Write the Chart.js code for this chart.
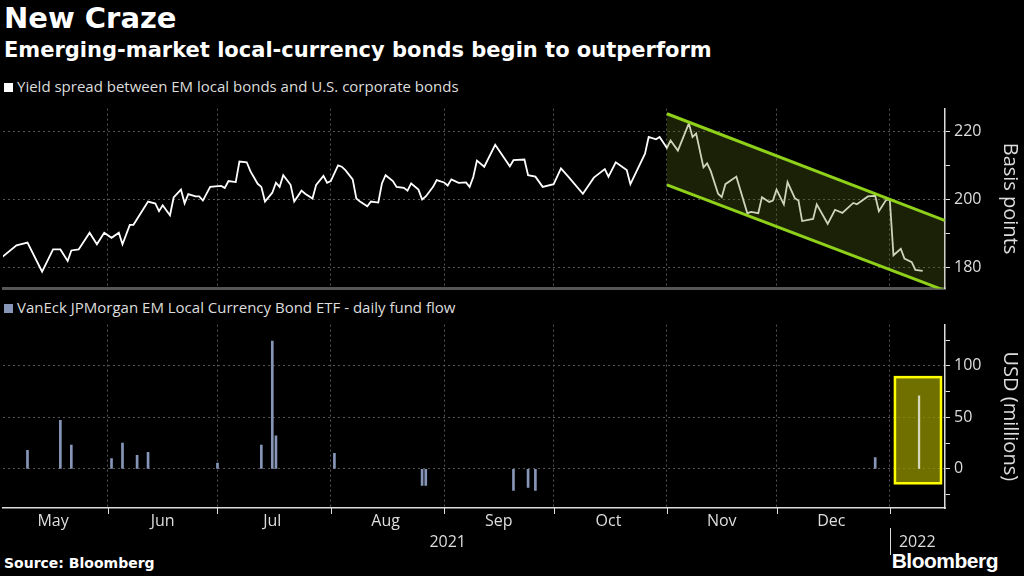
<!DOCTYPE html>
<html>
<head>
<meta charset="utf-8">
<script src="https://cdn.jsdelivr.net/npm/chart.js@4"></script>
<style>
  body { margin: 0; background: #000; width: 1024px; height: 576px; overflow: hidden; font-family: "DejaVu Sans", sans-serif; color: #fff; }
  .txt { position: absolute; left: 4px; white-space: nowrap; }
  #titulo { top: 1px; font-size: 29px; font-weight: bold; }
  #subtitulo { top: 38px; font-size: 21px; font-weight: bold; }
  .leyenda { font-family: "Open Sans", sans-serif; font-size: 15px; color: #ddd; }
  .leyenda span { display: inline-block; width: 9px; height: 9px; margin-right: 4px; }
  #fuente { top: 555px; font-size: 14px; font-weight: bold; }
  #marca { position: absolute; right: 26px; top: 549px; font-family: "Liberation Sans", sans-serif; font-size: 21px; font-weight: bold; letter-spacing: -0.5px; }
  canvas { position: absolute; left: 0; }
</style>
</head>
<body>
<div id="titulo" class="txt">New Craze</div>
<div id="subtitulo" class="txt">Emerging-market local-currency bonds begin to outperform</div>
<div class="txt leyenda" style="top:76px"><span style="background:#fff"></span>Yield spread between EM local bonds and U.S. corporate bonds</div>
<div class="txt leyenda" style="top:297px"><span style="background:#8796b8"></span>VanEck JPMorgan EM Local Currency Bond ETF - daily fund flow</div>
<div id="fuente" class="txt">Source: Bloomberg</div>
<div id="marca">Bloomberg</div>
<div style="position:absolute;top:95px;left:0;width:1024px;height:207px"><canvas id="chartSpread"></canvas></div>
<div style="position:absolute;top:311px;left:0;width:1024px;height:247px"><canvas id="chartFlujo"></canvas></div>
<script>
// x values are days since 1 May 2021
const diasSpread = [2,6,9,13,16,18,20,21,23,26,28,30,32,34,35,37,38,42,44,45,46,48,49,51,52,53,55,56,57,59,62,63,64,66,67,69,70,72,73,74,76,77,78,79,81,82,84,85,87,88,90,91,92,94,95,96,98,99,100,102,103,105,106,107,109,110,112,113,114,116,117,118,120,121,123,124,125,127,129,130,131,132,134,137,141,142,145,146,148,150,153,155,157,161,164,167,168,170,173,174,178,179,181,182,184,185,187,190,191,192,194,195,196,198,199,200,203,206,207,209,210,212,213,214,216,217,219,220,221,224,225,228,230,232,235,236,239,241,242,244,245,246,248,249,251,252,254];
const valoresSpread = [183.1,186.6,187.4,178.9,185.4,185.4,182,185.1,185.4,190.3,186.9,190.3,188.8,190.3,186.9,192.6,192.6,199.4,198.8,196.6,198.3,195.4,200.6,202.9,198.9,201.6,200.9,200.9,199.7,203.7,204,203.4,205.4,205.1,211.1,210.9,208.3,204.6,203.7,199.4,202,204.9,203.7,207.1,204.3,199.4,202.6,201.7,200.3,204.3,206.9,204.9,205.4,210,209.6,208.6,205.9,200.3,199.4,198,199.4,199.1,204.7,207.1,205.4,203.7,203.4,202.6,204.7,202.9,200,200.9,203.7,205.7,205,204.1,205.9,204.9,205,203.7,206.6,211.4,209.6,216,209.7,211.5,211.7,207.1,206.7,203.7,204.5,209.1,206.7,201.7,206.4,208.9,206.7,210.9,208.6,204.5,213.4,218.3,217.6,218.3,215.1,217.3,214.3,222.3,218.3,219.3,209.4,210.6,208.3,201.7,200.7,204.5,206.7,196,196.4,196,200.7,199.3,199.7,202.9,198.6,205.1,200.4,199.7,193.7,194.3,198.6,192.9,197,196.1,199,198.6,200.9,201.1,196.6,199.9,199.9,183.7,185.6,182.7,181.7,179.4,179.1];
const canalDias = [184, 260];
const canalSuperior = [225.1, 193.9];
const canalInferior = [204.3, 173.4];

const diasFlujo = [9,18,21,32,35,39,42,61,73,76,77,93,117,118,142,146,148,241,253];
const valoresFlujo = [18,47,23,10,25,13,16,5.5,23,124,32,15,-16,-16,-21,-18,-21,11,71];
const cajaDestacada = { desde: 246.4, hasta: 259, arriba: 89, abajo: -14 };

const inicioMes = [31,61,92,123,153,184,214,245];
const mesesEtiquetas = ['May','Jun','Jul','Aug','Sep','Oct','Nov','Dec'];
const mitadMes = [16,46,76,107,138,168,199,229];
const anios = [{ texto: '2021', dia: 124 }, { texto: '2022', dia: 252.5 }];
const X_MIN = 2.3, X_MAX = 260.1;

const fuenteEje = { family: 'Open Sans', size: 16 };

function ejeX(conEtiquetas) {
    return {
        type: 'linear', min: X_MIN, max: X_MAX, offset: false,
        afterBuildTicks: s => { s.ticks = inicioMes.map(v => ({ value: v })); },
        ticks: { display: false },
        grid: { color: '#555', lineWidth: 1, drawTicks: false, offset: false },
        border: conEtiquetas ? { color: '#ddd', width: 1.5, dash: [2, 3] } : { color: '#555', width: 3, dash: [2, 3] }
    };
}

function ejeY(min, max, paso, etiquetas, titulo) {
    return {
        position: 'right', min: min, max: max,
        afterBuildTicks: s => {
            const t = [];
            for (let v = Math.ceil(min / paso) * paso; v <= max; v += paso) t.push({ value: v });
            s.ticks = t;
        },
        afterFit: s => { s.width = 79; },
        ticks: { color: '#ddd', font: fuenteEje, padding: 4, callback: v => etiquetas.includes(v) ? v : '' },
        grid: {
            color: c => etiquetas.includes(c.tick && c.tick.value) ? '#555' : 'rgba(0,0,0,0)',
            tickColor: '#ddd', drawTicks: true, tickLength: 5
        },
        border: { color: '#ddd', width: 1.5, dash: [2, 3] },
        title: { display: true, text: titulo, color: '#ddd', font: { family: 'Open Sans', size: 20 }, padding: { top: 2, bottom: 0 } }
    };
}

new Chart(document.getElementById('chartSpread'), {
    type: 'line',
    data: {
        datasets: [
            { data: canalDias.map((d, i) => ({ x: d, y: canalInferior[i] })), borderColor: '#8fd11a', borderWidth: 3, pointRadius: 0, fill: false },
            { data: canalDias.map((d, i) => ({ x: d, y: canalSuperior[i] })), borderColor: '#8fd11a', borderWidth: 3, pointRadius: 0, fill: '-1', backgroundColor: 'rgba(90,110,20,0.3)' },
            { data: diasSpread.map((d, i) => ({ x: d, y: valoresSpread[i] })), borderColor: '#fff', borderWidth: 1.8, pointRadius: 0, tension: 0 }
        ]
    },
    options: {
        animation: false, responsive: true, maintainAspectRatio: false,
        layout: { padding: { left: 3, top: 8, bottom: 3, right: 0 } },
        plugins: { legend: { display: false }, tooltip: { enabled: false } },
        scales: {
            x: ejeX(false),
            y: ejeY(174, 226.6, 10, [180, 200, 220], 'Basis points')
        }
    }
});

const extrasFlujo = {
    id: 'extrasFlujo',
    afterDatasetsDraw(chart) {
        const { ctx, scales: { x, y } } = chart;
        const l = x.getPixelForValue(cajaDestacada.desde), r = x.getPixelForValue(cajaDestacada.hasta);
        const t = y.getPixelForValue(cajaDestacada.arriba), b = y.getPixelForValue(cajaDestacada.abajo);
        ctx.save();
        ctx.fillStyle = 'rgba(150,150,0,0.75)';
        ctx.fillRect(l, t, r - l, b - t);
        // la barra destacada encima de la caja, en tono claro
        const i = valoresFlujo.length - 1;
        const bx = x.getPixelForValue(diasFlujo[i]);
        ctx.fillStyle = '#d8d8c0';
        ctx.fillRect(bx - 1, y.getPixelForValue(valoresFlujo[i]), 2, y.getPixelForValue(0) - y.getPixelForValue(valoresFlujo[i]));
        ctx.strokeStyle = '#ffff00'; ctx.lineWidth = 2.5;
        ctx.strokeRect(l, t, r - l, b - t);
        // meses y años
        ctx.fillStyle = '#ddd';
        ctx.font = '16px "Open Sans"';
        ctx.textAlign = 'center'; ctx.textBaseline = 'middle';
        const base = x.bottom;
        mesesEtiquetas.forEach((m, k) => ctx.fillText(m, x.getPixelForValue(mitadMes[k]), base + 13));
        anios.forEach(a => ctx.fillText(a.texto, x.getPixelForValue(a.dia), base + 34));
        ctx.strokeStyle = '#ddd'; ctx.lineWidth = 1;
        inicioMes.forEach(d => {
            const px = Math.round(x.getPixelForValue(d)) + 0.5;
            ctx.beginPath(); ctx.moveTo(px, base); ctx.lineTo(px, base + 6); ctx.stroke();
        });
        const sep = Math.round(x.getPixelForValue(245)) + 0.5;
        ctx.beginPath(); ctx.moveTo(sep, base + 20); ctx.lineTo(sep, base + 47); ctx.stroke();
        ctx.restore();
    }
};

new Chart(document.getElementById('chartFlujo'), {
    type: 'bar',
    data: {
        datasets: [{ data: diasFlujo.map((d, i) => ({ x: d, y: valoresFlujo[i] })), backgroundColor: '#8796b8', barThickness: 2 }]
    },
    options: {
        animation: false, responsive: true, maintainAspectRatio: false,
        layout: { padding: { left: 3, top: 2, bottom: 50, right: 0 } },
        plugins: { legend: { display: false }, tooltip: { enabled: false } },
        scales: {
            x: ejeX(true),
            y: ejeY(-38, 140, 25, [0, 50, 100], 'USD (millions)')
        }
    },
    plugins: [extrasFlujo]
});
</script>
</body>
</html>
